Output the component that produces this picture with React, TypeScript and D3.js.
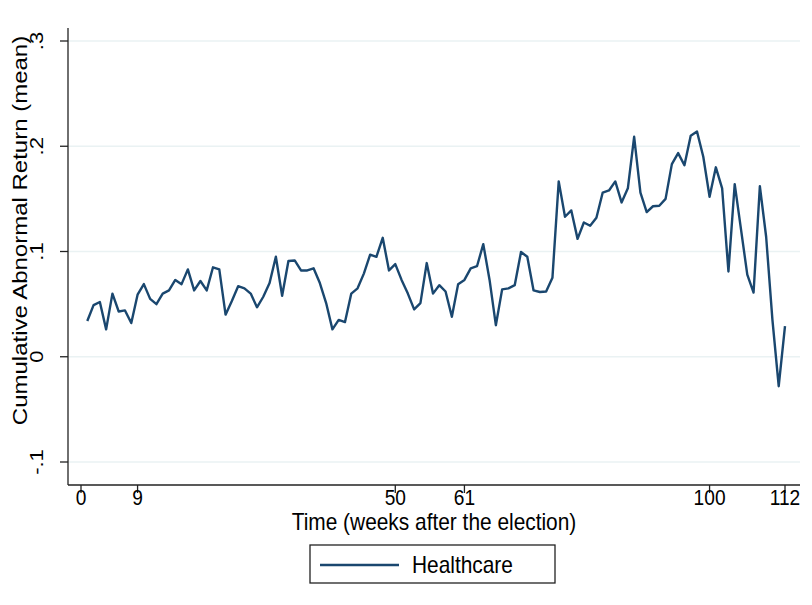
import React from "react";
import * as d3 from "d3";

const values: number[] = [
  0.034, 0.049, 0.052, 0.026, 0.06, 0.043, 0.044, 0.032, 0.059, 0.069,
  0.055, 0.05, 0.06, 0.063, 0.073, 0.069, 0.083, 0.063, 0.072, 0.063,
  0.085, 0.083, 0.04, 0.053, 0.067, 0.065, 0.06, 0.047, 0.057, 0.07,
  0.095, 0.058, 0.091, 0.0915, 0.082, 0.082, 0.084, 0.07, 0.051, 0.026,
  0.035, 0.033, 0.06, 0.065, 0.079, 0.097, 0.095, 0.113, 0.082, 0.088,
  0.073, 0.06, 0.045, 0.051, 0.089, 0.06, 0.068, 0.062, 0.038, 0.069,
  0.073, 0.084, 0.086, 0.107, 0.073, 0.03, 0.064, 0.065, 0.068, 0.0995,
  0.095, 0.063, 0.0615, 0.062, 0.075, 0.1666, 0.133, 0.139, 0.112, 0.1276,
  0.1245, 0.132, 0.156, 0.158, 0.1666, 0.1466, 0.16, 0.209, 0.156, 0.1375,
  0.143, 0.1435, 0.15, 0.183, 0.1935, 0.182, 0.21, 0.214, 0.19, 0.152,
  0.18, 0.16, 0.081, 0.164, 0.121, 0.078, 0.061, 0.162, 0.114, 0.035,
  -0.028, 0.029,
];
const xTicks: number[] = [0, 9, 50, 61, 100, 112];
const yTicks: number[] = [-0.1, 0, 0.1, 0.2, 0.3];
const yTickLabels: string[] = ["-.1", "0", ".1", ".2", ".3"];
const seriesName = "Healthcare";
const xTitle = "Time (weeks after the election)";
const yTitle = "Cumulative Abnormal Return (mean)";

const W = 812;
const H = 605;
const FONT = "'Liberation Sans', Arial, sans-serif";
const CX = 0.87; // horizontal compression of glyphs
const LINE = "#1a476f";
const GRID = "#eaf2f3";

export default function App() {
  const x = d3.scaleLinear().domain([0, 112]).range([81, 785]);
  const y = d3.scaleLinear().domain([-0.1, 0.3]).range([462, 41]);
  const left = 68, right = 800, top = 28, bottom = 485;
  const line = d3
    .line<number>()
    .x((_, i) => x(i + 1))
    .y((d) => y(d));

  return (
    <svg
      width={W}
      height={H}
      style={{ position: "absolute", left: 0, top: 0, background: "#fff" }}
      fontFamily={FONT}
    >
      <rect x={0} y={0} width={W} height={H} fill="#fff" />
      {yTicks.map((t) => (
        <line key={"g" + t} x1={left} x2={right} y1={y(t)} y2={y(t)} stroke={GRID} strokeWidth={1.6} />
      ))}
      <path d={line(values) || ""} fill="none" stroke={LINE} strokeWidth={2.4} strokeLinejoin="round" />
      {/* axes */}
      <line x1={left} x2={left} y1={top} y2={bottom} stroke="#222" strokeWidth={1.3} />
      <line x1={left} x2={right} y1={bottom} y2={bottom} stroke="#222" strokeWidth={1.3} />
      {yTicks.map((t, i) => (
        <g key={"yt" + t}>
          <line x1={left - 8} x2={left} y1={y(t)} y2={y(t)} stroke="#222" strokeWidth={1.3} />
          <text
            transform={`translate(43,${y(t)}) scale(${CX},1) rotate(-90)`}
            textAnchor="middle"
            fontSize={22}
            fill="#000"
          >
            {yTickLabels[i]}
          </text>
        </g>
      ))}
      {xTicks.map((t) => (
        <g key={"xt" + t}>
          <line x1={x(t)} x2={x(t)} y1={bottom} y2={bottom + 8} stroke="#222" strokeWidth={1.3} />
          <text
            transform={`translate(${x(t)},505) scale(${CX},1)`}
            textAnchor="middle"
            fontSize={22}
            fill="#000"
          >
            {t}
          </text>
        </g>
      ))}
      <text
        transform={`translate(${(290 + 578) / 2},530) scale(${CX},1)`}
        textAnchor="middle"
        fontSize={24}
        fill="#000"
      >
        {xTitle}
      </text>
      <text
        transform={`translate(27,${(33 + 428) / 2}) scale(${CX},1) rotate(-90)`}
        textAnchor="middle"
        fontSize={24}
        fill="#000"
      >
        {yTitle}
      </text>
      {/* legend */}
      <rect x={310} y={545} width={245} height={38} fill="#fff" stroke="#222" strokeWidth={1.3} />
      <line x1={320} x2={399} y1={565} y2={565} stroke={LINE} strokeWidth={2.4} />
      <text transform={`translate(412,573) scale(${CX},1)`} fontSize={24} fill="#000">
        {seriesName}
      </text>
    </svg>
  );
}
